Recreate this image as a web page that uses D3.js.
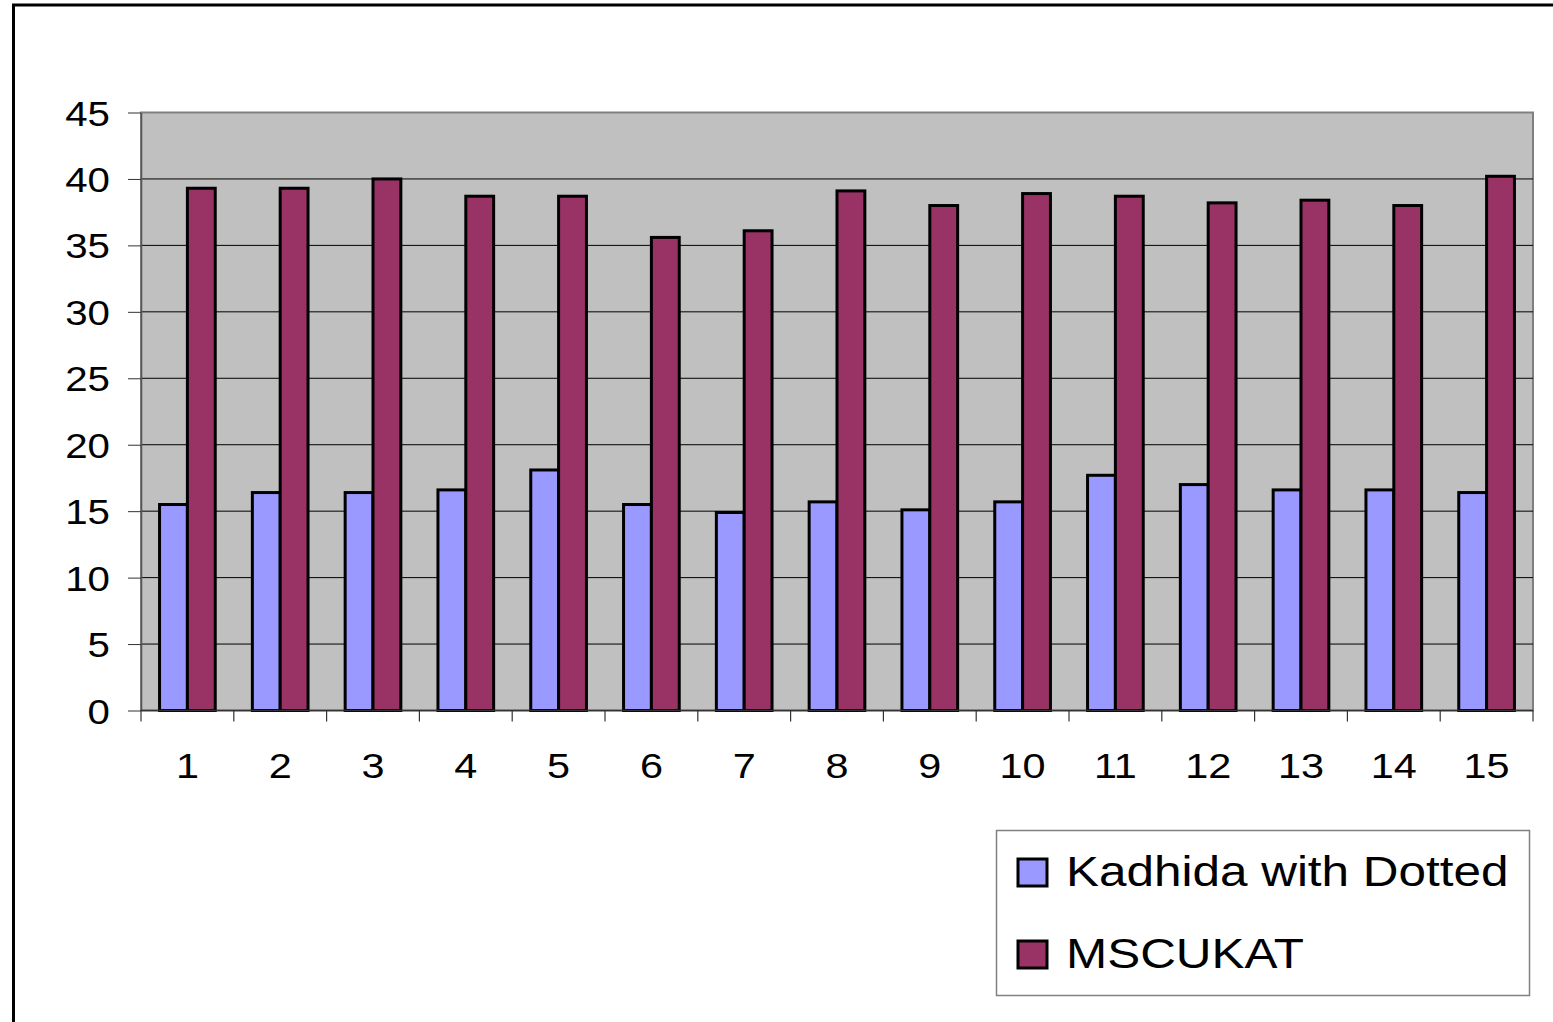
<!DOCTYPE html>
<html lang="en">
<head>
    <meta charset="UTF-8">
    <title>Kadhida with Dotted vs MSCUKAT</title>
    <script src="https://d3js.org/d3.v7.min.js"></script>
    <style>
        body {
            margin: 0;
            padding: 0;
            background: #fff;
            font-family: "Liberation Sans", Arial, sans-serif;
        }
        svg { display: block; }
    </style>
</head>
<body>
    <svg id="chart" width="1553" height="1022"></svg>

    <script>
        // data
        const categories = ["1","2","3","4","5","6","7","8","9","10","11","12","13","14","15"];
        const seriesNames = ["Kadhida with Dotted", "MSCUKAT"];
        const kadhida = [15.5, 16.4, 16.4, 16.6, 18.1, 15.5, 14.9, 15.7, 15.1, 15.7, 17.7, 17.0, 16.6, 16.6, 16.4];
        const mscukat = [39.3, 39.3, 40.0, 38.7, 38.7, 35.6, 36.1, 39.1, 38.0, 38.9, 38.7, 38.2, 38.4, 38.0, 40.2];
        const yTicks = [0, 5, 10, 15, 20, 25, 30, 35, 40, 45];

        const colors = ["#9999ff", "#993366"];
        const stretch = 1.15; // text in the original looks a bit wide

        const svg = d3.select("#chart");

        // outer chart frame
        svg.append("rect")
            .attr("x", 13.5).attr("y", 5)
            .attr("width", 1600).attr("height", 1100)
            .attr("fill", "none")
            .attr("stroke", "#000")
            .attr("stroke-width", 3);

        const plot = { left: 141, right: 1533, top: 112.5, bottom: 710.5 };

        const x = d3.scaleBand()
            .domain(categories)
            .range([plot.left, plot.right])
            .paddingInner(0)
            .paddingOuter(0);

        const bandW = x.bandwidth();
        const groupW = bandW * 0.6;
        const xSub = d3.scaleBand()
            .domain(seriesNames)
            .range([0, groupW]);

        const y = d3.scaleLinear()
            .domain([0, 45])
            .range([plot.bottom, plot.top]);

        // plot background
        svg.append("rect")
            .attr("x", plot.left).attr("y", plot.top)
            .attr("width", plot.right - plot.left)
            .attr("height", plot.bottom - plot.top)
            .attr("fill", "#c0c0c0")
            .attr("stroke", "#808080")
            .attr("stroke-width", 2);

        // gridlines
        svg.append("g")
            .selectAll("line")
            .data(yTicks.filter(d => d > 0 && d < 45))
            .join("line")
            .attr("x1", plot.left).attr("x2", plot.right)
            .attr("y1", d => y(d)).attr("y2", d => y(d))
            .attr("stroke", "#000")
            .attr("stroke-width", 1);

        // bars
        const rows = categories.map((c, i) => ({ cat: c, vals: [kadhida[i], mscukat[i]] }));
        const groups = svg.append("g")
            .selectAll("g")
            .data(rows)
            .join("g")
            .attr("transform", d => `translate(${x(d.cat) + (bandW - groupW) / 2},0)`);

        groups.selectAll("rect")
            .data(d => d.vals.map((v, k) => ({ name: seriesNames[k], v: v, k: k })))
            .join("rect")
            .attr("x", d => xSub(d.name))
            .attr("y", d => y(d.v))
            .attr("width", xSub.bandwidth())
            .attr("height", d => y(0) - y(d.v))
            .attr("fill", d => colors[d.k])
            .attr("stroke", "#000")
            .attr("stroke-width", 3);

        // y axis
        const yAxis = svg.append("g")
            .attr("transform", `translate(${plot.left},0)`)
            .call(d3.axisLeft(y).tickValues(yTicks).tickSize(13).tickSizeOuter(0).tickPadding(0));
        yAxis.select(".domain").attr("stroke", "#555").attr("stroke-width", 1.5);
        yAxis.selectAll(".tick line").attr("stroke", "#333");
        yAxis.selectAll(".tick text").remove();
        yAxis.selectAll(".tick").append("text")
            .attr("transform", "translate(-31,0) scale(" + stretch + ",1)")
            .attr("text-anchor", "end")
            .attr("dy", "0.36em")
            .attr("fill", "#000")
            .style("font-family", "'Liberation Sans', Arial, sans-serif")
            .style("font-size", "35px")
            .text(d => d);

        // x axis
        const xAxis = svg.append("g")
            .attr("transform", `translate(0,${plot.bottom})`);
        xAxis.append("line")
            .attr("x1", plot.left).attr("x2", plot.right)
            .attr("stroke", "#333").attr("stroke-width", 1.5);
        xAxis.selectAll("line.tk")
            .data(categories.concat(["end"]))
            .join("line")
            .attr("class", "tk")
            .attr("x1", (d, i) => i < categories.length ? x(d) : plot.right)
            .attr("x2", (d, i) => i < categories.length ? x(d) : plot.right)
            .attr("y1", 0).attr("y2", 11)
            .attr("stroke", "#333").attr("stroke-width", 1.2);
        xAxis.selectAll("text")
            .data(categories)
            .join("text")
            .attr("transform", d => `translate(${x(d) + bandW / 2},67) scale(${stretch},1)`)
            .attr("text-anchor", "middle")
            .attr("fill", "#000")
            .style("font-size", "36px")
            .text(d => d);

        // legend
        const legend = svg.append("g");
        legend.append("rect")
            .attr("x", 996.5).attr("y", 830.5)
            .attr("width", 533).attr("height", 165)
            .attr("fill", "#fff")
            .attr("stroke", "#808080")
            .attr("stroke-width", 1.5);

        const items = legend.selectAll("g.item")
            .data(seriesNames)
            .join("g")
            .attr("class", "item")
            .attr("transform", (d, i) => `translate(1018,${859 + i * 82})`);
        items.append("rect")
            .attr("width", 29).attr("height", 27)
            .attr("fill", (d, i) => colors[i])
            .attr("stroke", "#000")
            .attr("stroke-width", 3);
        items.append("text")
            .attr("transform", `translate(48,27) scale(${stretch},1)`)
            .attr("fill", "#000")
            .style("font-size", "43px")
            .text(d => d);
    </script>
</body>
</html>
